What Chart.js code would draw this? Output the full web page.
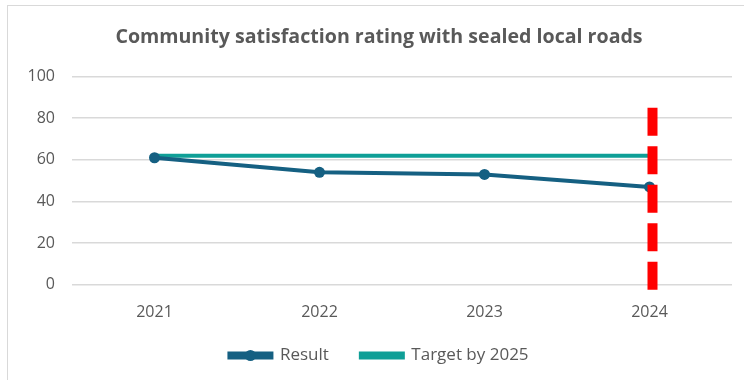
<!DOCTYPE html>
<html lang="en">
<head>
  <meta charset="UTF-8" />
  <title>Community satisfaction rating with sealed local roads</title>
  <script src="https://cdn.jsdelivr.net/npm/chart.js"></script>
  <style>
    html, body { margin: 0; padding: 0; background: #fff; }
    .frame { position: absolute; left: 7px; top: 5px; width: 760px; height: 400px; border: 1px solid #d9d9d9; box-sizing: border-box; }
    .wrap { position: absolute; left: 0; top: 0; width: 744px; height: 380px; }
  </style>
</head>
<body>
  <div class="frame"></div>
  <div class="wrap"><canvas id="roadsChart"></canvas></div>

  <script>
    const years = ['2021', '2022', '2023', '2024'];
    const result = [61, 54, 53, 47];
    const target = [62, 62, 62, 62];
    const yTicks = [0, 20, 40, 60, 80, 100];
    // red dashed marker at the latest year
    const markerYear = '2024';
    const markerRange = [-3, 85];

    const grey = '#595959';
    const font = { family: '"Open Sans", sans-serif', size: 16 };

    const markerLine = {
      id: 'markerLine',
      afterDatasetsDraw(chart) {
        const x = chart.scales.x.getPixelForValue(years.indexOf(markerYear)) + 3;
        const y1 = chart.scales.y.getPixelForValue(markerRange[1]);
        const y2 = chart.scales.y.getPixelForValue(markerRange[0]);
        const ctx = chart.ctx;
        ctx.save();
        ctx.strokeStyle = '#ff0000';
        ctx.lineWidth = 10;
        ctx.setLineDash([28, 10.5]);
        ctx.beginPath();
        ctx.moveTo(x, y1);
        ctx.lineTo(x, y2);
        ctx.stroke();
        ctx.restore();
      }
    };

    // dot in the middle of the Result legend line
    const legendDot = {
      id: 'legendDot',
      afterDraw(chart) {
        const box = chart.legend.legendHitBoxes[0];
        if (!box) return;
        const ctx = chart.ctx;
        ctx.save();
        ctx.fillStyle = '#156082';
        ctx.beginPath();
        ctx.arc(box.left + 21, box.top + box.height / 2, 5.5, 0, Math.PI * 2);
        ctx.fill();
        ctx.restore();
      }
    };

    new Chart(document.getElementById('roadsChart'), {
      type: 'line',
      data: {
        labels: years,
        datasets: [{
          label: 'Result',
          data: result,
          borderColor: '#156082',
          backgroundColor: '#156082',
          borderWidth: 4,
          pointRadius: 5.5,
          pointBackgroundColor: '#156082',
          pointBorderWidth: 0,
          order: 1
        }, {
          label: 'Target by 2025',
          data: target,
          borderColor: '#0f9f97',
          backgroundColor: '#0f9f97',
          borderWidth: 4,
          pointRadius: 0,
          order: 2
        }]
      },
      options: {
        responsive: true,
        maintainAspectRatio: false,
        animation: false,
        layout: { padding: { left: 26, right: 12, top: 10, bottom: 6 } },
        plugins: {
          title: {
            display: true,
            text: 'Community satisfaction rating with sealed local roads',
            color: grey,
            font: { family: '"Open Sans", sans-serif', size: 19.6, weight: 'bold' },
            padding: { top: 16, bottom: 27 }
          },
          legend: {
            position: 'bottom',
            labels: {
              color: grey,
              font: { family: '"Open Sans", sans-serif', size: 17 },
              boxWidth: 42,
              boxHeight: 4,
              padding: 15,
              // wider gap between the two entries, as in the original
              generateLabels: chart => Chart.defaults.plugins.legend.labels.generateLabels(chart)
                .map((item, i) => i === 0 ? { ...item, text: item.text + '\u2002\u2002' } : item)
            }
          },
          tooltip: { enabled: false }
        },
        scales: {
          x: {
            offset: true,
            grid: { display: false },
            border: { display: false },
            ticks: { color: grey, font: font, padding: 10 }
          },
          y: {
            min: 0,
            max: 100,
            afterBuildTicks: axis => { axis.ticks = yTicks.map(v => ({ value: v })); },
            afterFit: axis => { axis.width = 46; },
            grid: { color: '#d9d9d9', lineWidth: 1.5, drawTicks: false },
            border: { display: false },
            ticks: { color: grey, font: font, padding: 17 }
          }
        }
      },
      plugins: [markerLine, legendDot]
    });
  </script>
</body>
</html>
